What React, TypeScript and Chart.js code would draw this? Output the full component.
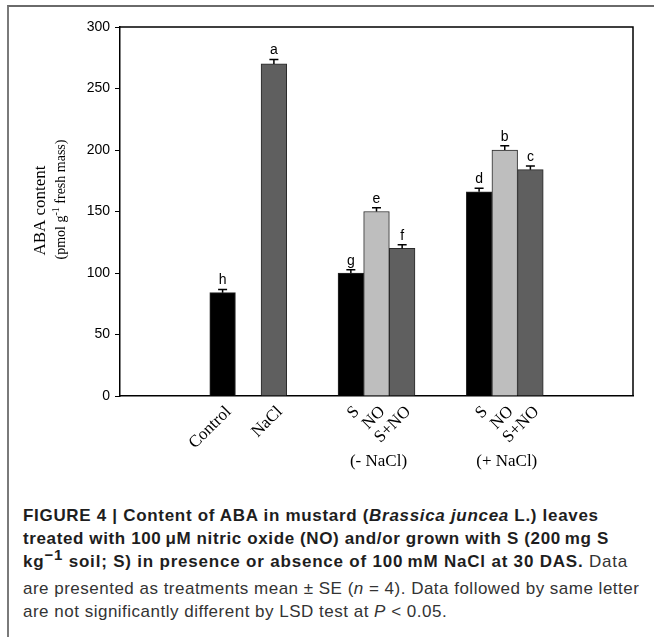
import React, { useEffect, useRef } from 'react';
import { Chart, registerables } from 'chart.js';

Chart.register(...registerables);

// ---- data ----
const categories = ['Control', 'NaCl', 'S', 'NO', 'S+NO', 'S', 'NO', 'S+NO'];
const slots = [4, 6, 9, 10, 11, 14, 15, 16];
const values = [84, 270, 100, 150, 120, 166, 200, 184];
const errors = [2.5, 3.5, 2.7, 3, 3, 3, 3.5, 3];
const letters = ['h', 'a', 'g', 'e', 'f', 'd', 'b', 'c'];
const barColors = ['#000000', '#5f5f5f', '#000000', '#bebebe', '#5f5f5f', '#000000', '#bebebe', '#5f5f5f'];
const groupLabels = ['(- NaCl)', '(+ NaCl)'];
const groupSlots = [10, 15];
const yMin = 0;
const yMax = 300;
const yStep = 50;
const slotCount = 21;

const CANVAS_W = 654;
const CANVAS_H = 490;

const overlayPlugin = {
  id: 'overlay',
  afterDatasetsDraw(chart: any) {
    const { ctx, chartArea, scales } = chart;
    const xs = scales.x;
    const ys = scales.y;
    ctx.save();
    // top & right frame
    ctx.strokeStyle = '#000';
    ctx.lineWidth = 1.5;
    ctx.beginPath();
    ctx.moveTo(chartArea.left, chartArea.top);
    ctx.lineTo(chartArea.right, chartArea.top);
    ctx.lineTo(chartArea.right, chartArea.bottom);
    ctx.stroke();

    // error bars + letters
    ctx.lineWidth = 1.5;
    ctx.fillStyle = '#000';
    ctx.font = '14px "Liberation Sans", Arial, sans-serif';
    ctx.textAlign = 'center';
    ctx.textBaseline = 'bottom';
    values.forEach((v, i) => {
      const cx = xs.getPixelForValue(slots[i]);
      const yTop = ys.getPixelForValue(v);
      const yErr = ys.getPixelForValue(v + errors[i]);
      ctx.beginPath();
      ctx.moveTo(cx, yTop);
      ctx.lineTo(cx, yErr);
      ctx.moveTo(cx - 4.5, yErr);
      ctx.lineTo(cx + 4.5, yErr);
      ctx.stroke();
      ctx.fillText(letters[i], cx, yErr - 2);
    });

    // group labels
    ctx.font = '17px "Liberation Serif", "Times New Roman", serif';
    ctx.textBaseline = 'middle';
    groupLabels.forEach((g, i) => {
      const gx = xs.getPixelForValue(groupSlots[i]) + 2;
      ctx.fillText(g, gx, chartArea.bottom + 66);
    });

    // y-axis title
    const midY = (chartArea.top + chartArea.bottom) / 2;
    ctx.save();
    ctx.translate(chartArea.left - 79, midY - 1);
    ctx.rotate(-Math.PI / 2);
    ctx.font = '17px "Liberation Serif", "Times New Roman", serif';
    ctx.textAlign = 'center';
    ctx.textBaseline = 'middle';
    ctx.fillText('ABA content', 0, 0);
    ctx.restore();

    ctx.save();
    ctx.translate(chartArea.left - 59, midY - 12);
    ctx.rotate(-Math.PI / 2);
    ctx.textAlign = 'left';
    ctx.textBaseline = 'middle';
    const mainFont = '14px "Liberation Serif", "Times New Roman", serif';
    const supFont = '10px "Liberation Serif", "Times New Roman", serif';
    const p1 = '(pmol g';
    const p2 = '-1';
    const p3 = ' fresh mass)';
    ctx.font = mainFont;
    const w1 = ctx.measureText(p1).width;
    const w3 = ctx.measureText(p3).width;
    ctx.font = supFont;
    const w2 = ctx.measureText(p2).width;
    let sx = -(w1 + w2 + w3) / 2;
    ctx.font = mainFont;
    ctx.fillText(p1, sx, 0);
    sx += w1;
    ctx.font = supFont;
    ctx.fillText(p2, sx, -5);
    sx += w2;
    ctx.font = mainFont;
    ctx.fillText(p3, sx, 0);
    ctx.restore();

    ctx.restore();
  },
};

function ChartView() {
  const ref = useRef<HTMLCanvasElement | null>(null);
  useEffect(() => {
    if (!ref.current) return;
    const labels: string[] = Array(slotCount).fill('');
    const data: (number | null)[] = Array(slotCount).fill(null);
    const colors: string[] = Array(slotCount).fill('#000000');
    slots.forEach((s, i) => {
      labels[s] = categories[i];
      data[s] = values[i];
      colors[s] = barColors[i];
    });
    const chart = new Chart(ref.current, {
      type: 'bar',
      data: {
        labels,
        datasets: [
          {
            data,
            backgroundColor: colors,
            borderColor: '#2a2a2a',
            borderWidth: 1,
            barPercentage: 1,
            categoryPercentage: 1,
          },
        ],
      },
      options: {
        animation: false,
        responsive: false,
        devicePixelRatio: 1,
        layout: { padding: { left: 0, top: 27, right: 21, bottom: 0 } },
        plugins: { legend: { display: false }, tooltip: { enabled: false } },
        scales: {
          x: {
            type: 'category',
            offset: false,
            grid: { display: false },
            border: { display: true, color: '#000', width: 1.5 },
            ticks: {
              autoSkip: false,
              minRotation: 45,
              maxRotation: 45,
              padding: -2,
              labelOffset: 6,
              color: '#000',
              font: { family: '"Liberation Serif", "Times New Roman", serif', size: 17 },
            },
            afterFit: (s: any) => {
              s.height = CANVAS_H - 396;
            },
          },
          y: {
            type: 'linear',
            min: yMin,
            max: yMax,
            grid: { display: true, drawOnChartArea: false, drawTicks: true, tickLength: 5, color: '#000', lineWidth: 1 },
            border: { display: true, color: '#000', width: 1.5 },
            ticks: {
              stepSize: yStep,
              padding: 5,
              color: '#000',
              font: { family: '"Liberation Sans", Arial, sans-serif', size: 14 },
            },
            afterFit: (s: any) => {
              s.width = 120;
            },
          },
        },
      },
      plugins: [overlayPlugin],
    });
    return () => chart.destroy();
  }, []);
  return (
    <canvas
      ref={ref}
      width={CANVAS_W}
      height={CANVAS_H}
      style={{ position: 'absolute', left: 0, top: 0, width: CANVAS_W, height: CANVAS_H }}
    />
  );
}

const capBase: React.CSSProperties = {
  position: 'absolute',
  left: 23,
  whiteSpace: 'nowrap',
  fontFamily: '"Liberation Sans", Arial, Helvetica, sans-serif',
  fontSize: 17,
  lineHeight: '20px',
  letterSpacing: '0.5px',
  color: '#333',
};
const bold: React.CSSProperties = { fontWeight: 'bold', color: '#1e1e1e' };

export default function App() {
  return (
    <div style={{ position: 'absolute', left: 0, top: 0, width: 654, height: 637, background: '#fff', overflow: 'hidden' }}>
      <div
        style={{
          position: 'absolute',
          left: 7,
          top: 5,
          width: 660,
          height: 660,
          borderLeft: '2px solid #7a7a7a',
          borderTop: '2px solid #6a6a6a',
        }}
      />
      <ChartView />
      <div style={{ ...capBase, top: 506, letterSpacing: '0.69px' }}>
        <span style={bold}>
          FIGURE 4 | Content of ABA in mustard (<i>Brassica juncea</i> L.) leaves
        </span>
      </div>
      <div style={{ ...capBase, top: 529, letterSpacing: '0.62px' }}>
        <span style={bold}>treated with 100{'\u2009'}μM nitric oxide (NO) and/or grown with S (200{'\u2009'}mg S</span>
      </div>
      <div style={{ ...capBase, top: 552, letterSpacing: '0.8px' }}>
        <span style={bold}>
          kg<sup style={{ fontSize: 15, lineHeight: 0 }}>−1</sup> soil; S) in presence or absence of 100{'\u2009'}mM NaCl at 30 DAS.
        </span>{' '}
        Data
      </div>
      <div style={{ ...capBase, top: 579, letterSpacing: '0.49px' }}>
        are presented as treatments mean ± SE (<i>n</i> = 4). Data followed by same letter
      </div>
      <div style={{ ...capBase, top: 602 }}>
        are not significantly different by LSD test at <i>P</i> &lt; 0.05.
      </div>
    </div>
  );
}
